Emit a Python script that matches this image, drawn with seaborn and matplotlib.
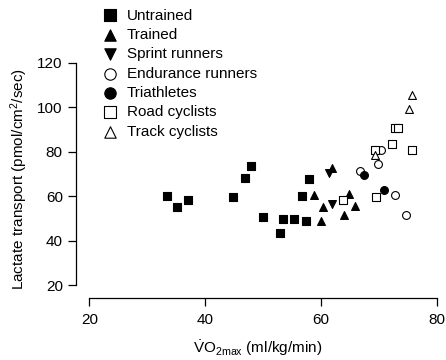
import matplotlib
matplotlib.use("Agg")
import matplotlib.pyplot as plt
import seaborn as sns

# data (VO2max, lactate transport)
untrained_x = [33.5, 35.1, 37.0, 44.9, 46.9, 47.9, 50.0, 52.9, 53.4, 55.3, 56.8, 57.4, 57.9]
untrained_y = [60.2, 55.2, 58.2, 59.4, 68.1, 73.5, 50.4, 43.2, 49.5, 49.5, 60.0, 48.8, 67.5]

trained_x = [58.8, 60.0, 60.4, 62.0, 64.0, 64.9, 65.9]
trained_y = [60.5, 48.8, 55.2, 72.5, 51.5, 60.8, 55.5]

sprint_x = [61.4, 61.9]
sprint_y = [70.2, 56.4]

endurance_x = [66.7, 69.8, 70.4, 72.8, 74.7]
endurance_y = [71.4, 74.3, 80.6, 60.5, 51.5]

triathlete_x = [67.4, 70.9]
triathlete_y = [69.3, 62.6]

road_x = [63.8, 69.4, 69.5, 72.3, 72.8, 73.4, 75.8]
road_y = [58.2, 80.9, 59.4, 83.4, 90.6, 90.6, 80.7]

track_x = [69.3, 75.3, 75.8]
track_y = [78.3, 99.2, 105.3]

groups = [
    ("Untrained", untrained_x, untrained_y, "s", "black"),
    ("Trained", trained_x, trained_y, "^", "black"),
    ("Sprint runners", sprint_x, sprint_y, "v", "black"),
    ("Endurance runners", endurance_x, endurance_y, "o", "white"),
    ("Triathletes", triathlete_x, triathlete_y, "o", "black"),
    ("Road cyclists", road_x, road_y, "s", "white"),
    ("Track cyclists", track_x, track_y, "^", "white"),
]

sns.set_style("ticks")
plt.rcParams["font.family"] = ["Liberation Sans", "DejaVu Sans"]
plt.rcParams["mathtext.fontset"] = "custom"
plt.rcParams["mathtext.rm"] = "Liberation Sans"
plt.rcParams["mathtext.it"] = "Liberation Sans:italic"
plt.rcParams["font.size"] = 11
for key in ["text.color", "axes.labelcolor", "xtick.color", "ytick.color", "axes.edgecolor"]:
    plt.rcParams[key] = "black"

fig = plt.figure(figsize=(4.46, 3.6), dpi=100)
ax = fig.add_axes([0.1704, 0.1722, 0.8152, 0.6597])

for name, xs, ys, mk, fc in groups:
    sns.scatterplot(x=xs, y=ys, marker=mk, color=fc, edgecolor="black",
                    linewidth=0.8, s=32, label=name, ax=ax)

ax.set_xlim(17.7, 80.5)
ax.set_ylim(14.15, 121)
ax.set_xticks([20, 40, 60, 80])
ax.set_yticks([20, 40, 60, 80, 100, 120])
ax.spines["left"].set_bounds(20, 120)
ax.spines["bottom"].set_bounds(20, 80)
for side in ["top", "right"]:
    ax.spines[side].set_visible(False)
for side in ["left", "bottom"]:
    ax.spines[side].set_linewidth(0.9)
ax.tick_params(axis="y", length=5.5, width=0.9, labelsize=11, pad=4)
ax.tick_params(axis="x", length=5.5, width=0.9, labelsize=11, pad=5)

ax.set_ylabel("Lactate transport (pmol/cm$^2$/sec)", fontsize=11, labelpad=5)
ax.set_xlabel(r"$\dot{\mathrm{V}}\mathrm{O}_{\mathrm{2max}}$ (ml/kg/min)", fontsize=11, labelpad=8)

ax.legend(loc="upper left", bbox_to_anchor=(102 / 446, 1 - 8.5 / 360),
          bbox_transform=fig.transFigure, frameon=False, fontsize=11,
          handlelength=1.0, handletextpad=0.61, borderpad=0, borderaxespad=0,
          labelspacing=0.35, markerscale=1.45)

fig.savefig("out.png", dpi=100)
